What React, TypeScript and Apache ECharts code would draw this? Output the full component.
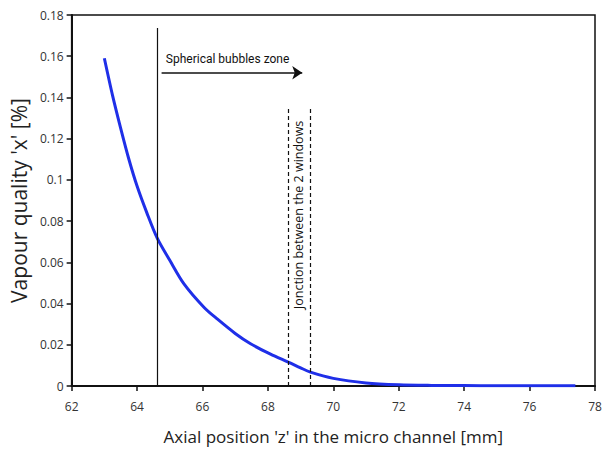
import React, { useEffect, useRef } from 'react';
import * as echarts from 'echarts';

// Axial position z [mm] and vapour quality x [%]
const zValues = [63.0, 63.25, 63.5, 63.75, 64.0, 64.3, 64.62, 65.0, 65.44, 66.05, 66.46, 67.0, 67.47, 68.08, 68.64, 69.0, 69.3, 70.0, 71.0, 72.0, 73.0, 74.0, 75.0, 76.0, 77.4];
const xValues = [0.159, 0.141, 0.125, 0.11, 0.097, 0.084, 0.0716, 0.061, 0.0494, 0.0381, 0.0324, 0.0255, 0.0205, 0.0155, 0.0115, 0.0088, 0.0067, 0.0037, 0.0015, 0.0006, 0.0003, 0.0002, 0.0001, 0.0001, 0.0001];

// Axis ranges
const zAxisRange = [62, 78, 2];
const xAxisRange = [0, 0.18, 0.02];

// Annotations (data coordinates)
const bubbleZoneLine = [64.62, 0.1737]; // z, top
const bubbleArrow = [64.75, 69.05, 0.152]; // z start, z end, y
const bubbleLabel = [64.88, 0.1585];
const junctionLines = [68.62, 69.28];
const junctionTop = 0.135;
const junctionLabel = [68.95, 0.083];

const bubbleText = 'Spherical bubbles zone';
const junctionText = 'Jonction between the 2 windows';
const xTitle = "Axial position 'z' in the micro channel [mm]";
const yTitle = "Vapour quality 'x' [%]";

export default function App() {
  const ref = useRef<HTMLDivElement>(null);
  useEffect(() => {
    if (!ref.current) return;
    const chart = echarts.init(ref.current, null, { renderer: 'svg' });
    const tickFont = { fontFamily: 'Open Sans', fontSize: 12, color: '#333' };
    chart.setOption({
      animation: false,
      backgroundColor: '#fff',
      grid: {
        left: 70.5,
        right: 12,
        top: 15,
        bottom: 63,
        show: true,
        borderColor: '#111',
        borderWidth: 1.5,
      },
      xAxis: {
        type: 'value',
        min: zAxisRange[0],
        max: zAxisRange[1],
        interval: zAxisRange[2],
        name: xTitle,
        nameLocation: 'middle',
        nameGap: 42,
        nameTextStyle: { fontFamily: 'Open Sans', fontSize: 17, color: '#222' },
        axisLine: { show: true, lineStyle: { color: '#111', width: 2 } },
        axisTick: { show: true, inside: false, length: 5, lineStyle: { color: '#111', width: 1.5 } },
        axisLabel: { ...tickFont, margin: 14 },
        splitLine: { show: false },
      },
      yAxis: {
        type: 'value',
        min: xAxisRange[0],
        max: xAxisRange[1],
        interval: xAxisRange[2],
        name: yTitle,
        nameLocation: 'middle',
        nameGap: 41,
        nameRotate: 90,
        nameTextStyle: { fontFamily: 'Open Sans', fontSize: 21, color: '#222' },
        axisLine: { show: true, lineStyle: { color: '#111', width: 2 } },
        axisTick: { show: true, inside: false, length: 5, lineStyle: { color: '#111', width: 1.5 } },
        axisLabel: { ...tickFont, margin: 8 },
        splitLine: { show: false },
      },
      series: [
        {
          type: 'line',
          data: zValues.map((z, i) => [z, xValues[i]]),
          smooth: 0.3,
          symbol: 'none',
          lineStyle: { color: '#1f2fe8', width: 3 },
          markLine: {
            silent: true,
            symbol: ['none', 'none'],
            label: { show: false },
            data: [
              [
                { coord: [bubbleZoneLine[0], 0], lineStyle: { type: 'solid', color: '#111', width: 1.2 } },
                { coord: [bubbleZoneLine[0], bubbleZoneLine[1]] },
              ],
              [
                { coord: [bubbleArrow[0], bubbleArrow[2]], symbol: 'none', lineStyle: { type: 'solid', color: '#111', width: 1.5 } },
                { coord: [bubbleArrow[1], bubbleArrow[2]], symbol: 'arrow', symbolSize: 10 },
              ],
              ...junctionLines.map((z) => [
                { coord: [z, 0], lineStyle: { type: [4, 3], color: '#111', width: 1.2 } },
                { coord: [z, junctionTop] },
              ]),
            ],
          },
        },
      ],
    });
    const p1 = chart.convertToPixel({ gridIndex: 0 }, bubbleLabel) as number[];
    const p2 = chart.convertToPixel({ gridIndex: 0 }, junctionLabel) as number[];
    chart.setOption({
      graphic: [
        {
          type: 'text',
          x: p1[0],
          y: p1[1],
          style: {
            text: bubbleText,
            fontFamily: 'Roboto',
            fontSize: 12,
            fill: '#111',
            align: 'left',
            verticalAlign: 'middle',
          },
        },
        {
          type: 'text',
          x: p2[0],
          y: p2[1],
          rotation: Math.PI / 2,
          style: {
            text: junctionText,
            fontFamily: 'Open Sans',
            fontSize: 12.5,
            fill: '#111',
            align: 'center',
            verticalAlign: 'middle',
          },
        },
      ],
    });
    return () => chart.dispose();
  }, []);
  return <div ref={ref} style={{ width: 607, height: 450, position: 'absolute', left: 0, top: 0 }} />;
}
